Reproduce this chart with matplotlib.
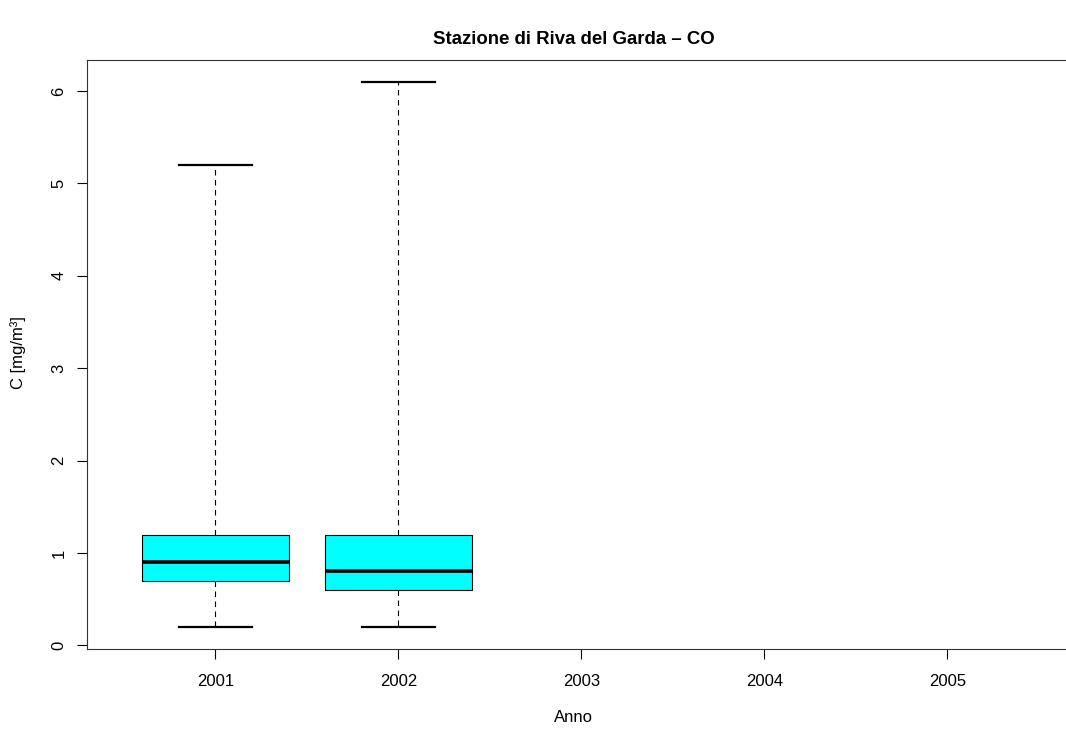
import matplotlib
matplotlib.use("Agg")
import matplotlib.pyplot as plt

plt.rcParams['font.family'] = ['Liberation Sans', 'DejaVu Sans']

years = ["2001", "2002", "2003", "2004", "2005"]
data_years = ["2001", "2002"]
whislo = [0.2, 0.2]
q1 = [0.7, 0.6]
med = [0.9, 0.8]
q3 = [1.2, 1.2]
whishi = [5.2, 6.1]

W, H = 1066, 729
fig = plt.figure(figsize=(W / 100, H / 100), dpi=100)
left, right, top, bottom = 87.3, 1075.4, 60.0, 648.7
ax = fig.add_axes([left / W, 1 - bottom / H, (right - left) / W, (bottom - top) / H])

stats = []
for i, y in enumerate(data_years):
    stats.append(dict(label=y, whislo=whislo[i], q1=q1[i], med=med[i],
                      q3=q3[i], whishi=whishi[i], fliers=[]))
positions = [years.index(y) + 1 for y in data_years]

ax.bxp(stats, positions=positions, widths=0.8, patch_artist=True,
       showfliers=False, manage_ticks=False,
       boxprops=dict(facecolor="#00FFFF", edgecolor="black", linewidth=0.8),
       medianprops=dict(color="black", linewidth=2.6, solid_capstyle="butt"),
       whiskerprops=dict(color="black", linewidth=0.8, linestyle=(0, (5, 4))),
       capprops=dict(color="black", linewidth=1.6),
       capwidths=0.4)

ax.set_xlim(0.3, 5.7)
ax.set_ylim(-0.036, 6.336)
ax.set_xticks(range(1, len(years) + 1))
ax.set_xticklabels(years)
ax.set_yticks(range(0, 7))
ax.set_yticklabels([str(v) for v in range(0, 7)], rotation=90, va="center")
ax.tick_params(axis="both", length=7, width=0.8, labelsize=12, color="black")
ax.tick_params(axis="x", pad=11)
ax.tick_params(axis="y", pad=8)
for s in ax.spines.values():
    s.set_linewidth(0.8)
    s.set_color("#333333")
ax.spines["right"].set_visible(False)

fig.text(573.5 / W, 1 - 40 / H, "Stazione di Riva del Garda – CO",
         ha="center", va="center", fontsize=13.4, fontweight="bold")
fig.text(573.5 / W, 1 - 718 / H, "Anno", ha="center", va="center", fontsize=12)
fig.text(18 / W, 1 - 353 / H, "C [mg/m³]", ha="center", va="center",
         rotation=90, fontsize=12)

fig.savefig("out.png", dpi=100)
